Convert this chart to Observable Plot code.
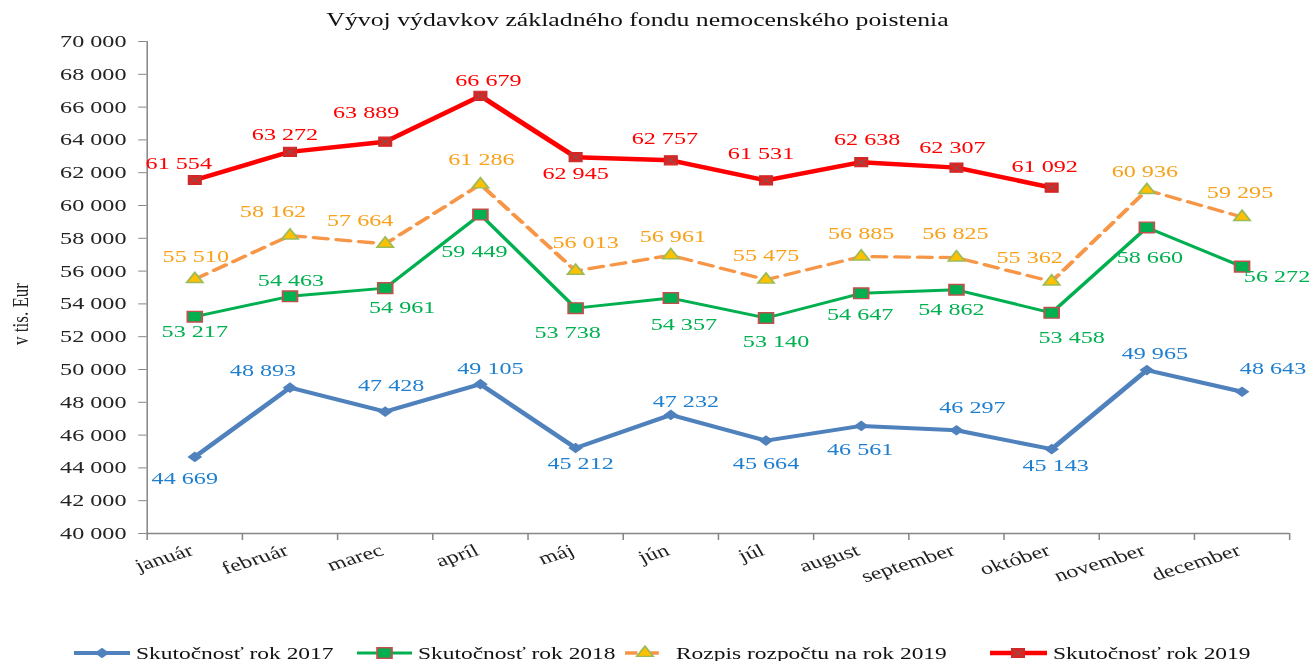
<!DOCTYPE html>
<html>
<head>
<meta charset="utf-8">
<script src="https://cdn.jsdelivr.net/npm/d3@7"></script>
<script src="https://cdn.jsdelivr.net/npm/@observablehq/plot@0.6"></script>
<style>
  html, body { margin: 0; padding: 0; background: #fff; overflow: hidden; }
  #wrap { position: relative; height: 661px; transform-origin: 0 0; font-family: "Liberation Serif", "Times New Roman", serif; }
  #title { position: absolute; top: 9px; left: 0; height: 22px; line-height: 22px; text-align: center; font-size: 18.7px; color: #111; white-space: nowrap; }
  #ylab { position: absolute; font-size: 17px; line-height: 20px; color: #222; white-space: nowrap; transform: translate(-50%, -50%) rotate(-90deg); }
  #chart { position: absolute; top: 0; left: 0; }
  #legend { position: absolute; top: 600px; left: 0; }
</style>
</head>
<body>
<div id="wrap">
  <div id="chart"></div>
  <div id="title">Vývoj výdavkov základného fondu nemocenského poistenia</div>
  <div id="ylab">v tis. Eur</div>
  <div id="legend"></div>
</div>
<script>
// ---------- data ----------
const months = ["január", "február", "marec", "apríl", "máj", "jún", "júl", "august", "september", "október", "november", "december"];
const yTicks = [40000, 42000, 44000, 46000, 48000, 50000, 52000, 54000, 56000, 58000, 60000, 62000, 64000, 66000, 68000, 70000];
const seriesNames = ["Skutočnosť rok 2017", "Skutočnosť rok 2018", "Rozpis rozpočtu na rok 2019", "Skutočnosť rok 2019"];
const actual2017 = [44669, 48893, 47428, 49105, 45212, 47232, 45664, 46561, 46297, 45143, 49965, 48643];
const actual2018 = [53217, 54463, 54961, 59449, 53738, 54357, 53140, 54647, 54862, 53458, 58660, 56272];
const budget2019 = [55510, 58162, 57664, 61286, 56013, 56961, 55475, 56885, 56825, 55362, 60936, 59295];
const actual2019 = [61554, 63272, 63889, 66679, 62945, 62757, 61531, 62638, 62307, 61092];

// label placement offsets (layout only, reference pixels)
const labelOffsets2017 = [[-10,21],[-27,-17],[6,-26],[10,-16],[5,15],[15,-13],[0,23],[-1,24],[16,-23],[4,16],[8,-17],[31,-23]];
const labelOffsets2018 = [[0,15],[1,-16],[17,19],[-6,37],[-8,24],[13,26],[10,23],[-1,21],[-5,20],[20,25],[3,30],[35,10]];
const labelOffsetsBudget = [[1,-23],[-17,-24],[-25,-23],[1,-25],[10,-28],[2,-19],[0,-24],[0,-23],[-1,-24],[-22,-24],[-2,-19],[-2,-25]];
const labelOffsets2019 = [[-16,-17],[-5,-17],[-19,-29],[8,-16],[0,16],[-6,-22],[-5,-27],[6,-23],[-4,-20],[-7,-21]];

// ---------- layout ----------
const STRETCH = 1.38;               // the reference is horizontally stretched
const W = 1310 / STRETCH;
const wrap = document.getElementById("wrap");
wrap.style.width = W + "px";
wrap.style.transform = `scaleX(${STRETCH})`;
document.getElementById("title").style.width = (2 * 637.5 / STRETCH) + "px";
const ylab = document.getElementById("ylab");
ylab.style.left = (21 / STRETCH) + "px";
ylab.style.top = "314px";

const fmt = d3.formatLocale({decimal: ",", thousands: " ", grouping: [3], currency: ["", ""]}).format(",d");
const GRAY = "#868686";
const FONT = "Liberation Serif, Times New Roman, serif";

const rows = values => values.map((v, i) => ({month: months[i], pos: i + 0.5, value: v}));

const series = [
  {name: seriesNames[0], data: rows(actual2017), offs: labelOffsets2017, line: {stroke: "#4F81BD", strokeWidth: 4},
   dots: [{symbol: "diamond2", r: 4.8, fill: "#4F81BD"}], label: "#1F7FCF"},
  {name: seriesNames[1], data: rows(actual2018), offs: labelOffsets2018, line: {stroke: "#00B050", strokeWidth: 2.9},
   dots: [{symbol: "square", r: 6, fill: "#00B050", stroke: "#C0504D", strokeWidth: 1.4}], label: "#00B050"},
  {name: seriesNames[2], data: rows(budget2019), offs: labelOffsetsBudget, line: {stroke: "#F79646", strokeWidth: 3.3, strokeDasharray: "10,6.5"},
   dots: [{symbol: "triangle", r: 4.4, fill: "#FFC000", stroke: "#9BBB59", strokeWidth: 1.4}], label: "#F9A11B"},
  {name: seriesNames[3], data: rows(actual2019), offs: labelOffsets2019, line: {stroke: "#FF0000", strokeWidth: 4.4},
   dots: [{symbol: "square", r: 5.2, fill: "#E3201C", stroke: "#CC2A2A", strokeWidth: 1},
          {symbol: "times", r: 3.4, fill: "none", stroke: "#8E4F4F", strokeWidth: 1}], label: "#FF0000"}
];

const marks = [
  Plot.ruleY([40000], {stroke: GRAY, strokeWidth: 1.4}),
  Plot.ruleX([0], {stroke: GRAY, strokeWidth: 1.1}),
  Plot.ruleX(d3.range(13), {x: d => d, y1: 40000, y2: 40000, insetBottom: -7, stroke: GRAY, strokeWidth: 1.1}),
  Plot.axisY({ticks: yTicks, tickFormat: fmt, tickSize: 6, tickPadding: 9, stroke: GRAY, fill: "#222", fontSize: 17.5, label: null}),
  Plot.text(months.map((m, i) => ({month: m, pos: i + 0.5})), {
    x: "pos", frameAnchor: "bottom", text: "month", rotate: -23, textAnchor: "end",
    dx: 0, dy: 21, fontSize: 17.5, fill: "#222"
  })
];

for (const s of series) {
  marks.push(Plot.line(s.data, {x: "pos", y: "value", ...s.line, strokeLinejoin: "round"}));
}
for (const s of series) {
  for (const d of s.dots) marks.push(Plot.dot(s.data, {x: "pos", y: "value", ...d}));
}
for (const s of series) {
  s.data.forEach((d, i) => {
    marks.push(Plot.text([d], {
      x: "pos", y: "value", text: r => fmt(r.value),
      dx: s.offs[i][0] / STRETCH, dy: s.offs[i][1],
      fill: s.label, fontSize: 17.5
    }));
  });
}

const chart = Plot.plot({
  width: W,
  height: 600,
  marginLeft: 146.5 / STRETCH,
  marginRight: W - 1289 / STRETCH,
  marginTop: 41,
  marginBottom: 67,
  x: {type: "linear", domain: [0, 12], axis: null},
  y: {domain: [40000, 70000]},
  style: {fontFamily: FONT, fontSize: "17.5px", background: "transparent", overflow: "visible"},
  marks
});
document.getElementById("chart").appendChild(chart);

// ---------- legend ----------
const legendItems = [
  {name: seriesNames[0], x0: 74, x1: 130, mx: 102, tx: 136, s: series[0]},
  {name: seriesNames[1], x0: 357, x1: 412, mx: 384.5, tx: 418, s: series[1]},
  {name: seriesNames[2], x0: 625, x1: 665, mx: 645, tx: 676, s: series[2]},
  {name: seriesNames[3], x0: 990, x1: 1047, mx: 1018, tx: 1053, s: series[3]}
];
const symbols = {diamond2: d3.symbolDiamond2, square: d3.symbolSquare, triangle: d3.symbolTriangle, times: d3.symbolTimes};
const lg = d3.select("#legend").append("svg").attr("width", W).attr("height", 61)
  .style("font-family", FONT).style("font-size", "17px").style("overflow", "visible");
const LY = 53;
for (const it of legendItems) {
  const g = lg.append("g");
  const st = it.s.line;
  g.append("line").attr("x1", it.x0 / STRETCH).attr("x2", it.x1 / STRETCH).attr("y1", LY).attr("y2", LY)
    .attr("stroke", st.stroke).attr("stroke-width", st.strokeWidth)
    .attr("stroke-dasharray", st.strokeDasharray ? "9,6.5" : null);
  for (const d of it.s.dots) {
    g.append("path")
      .attr("d", d3.symbol(symbols[d.symbol], Math.PI * d.r * d.r)())
      .attr("transform", `translate(${it.mx / STRETCH},${LY})`)
      .attr("fill", d.fill || "none").attr("stroke", d.stroke || "none").attr("stroke-width", d.strokeWidth || 1);
  }
  g.append("text").attr("x", it.tx / STRETCH).attr("y", LY).attr("dy", "0.35em").attr("fill", "#111").text(it.name);
}
</script>
</body>
</html>
